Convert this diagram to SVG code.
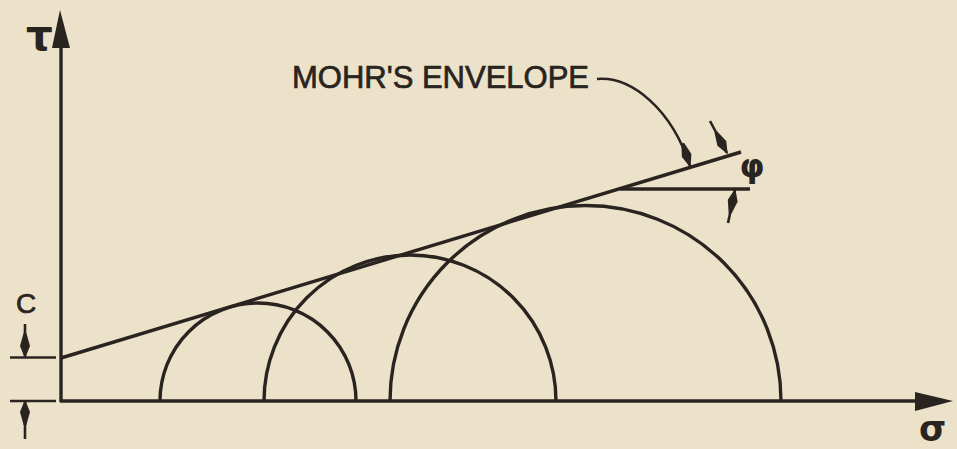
<svg xmlns="http://www.w3.org/2000/svg" width="957" height="449" viewBox="0 0 957 449">
<defs>
<style>
.ln{stroke:#2a2420;stroke-width:3.4;fill:none;stroke-linecap:butt}
.thin{stroke:#2a2420;stroke-width:2.6;fill:none}
.txt{font-family:"Liberation Sans",Arial,sans-serif;fill:#2a2420;stroke:#2a2420;stroke-width:0.7}
.gk{font-family:"DejaVu Sans",sans-serif;font-weight:bold;fill:#2a2420}
</style>
<marker id="ah" markerUnits="userSpaceOnUse" markerWidth="28" markerHeight="14" viewBox="-26 -7 28 14" refX="0" refY="0" orient="auto" overflow="visible">
<path d="M1.5,0 L-11,-5 L-24,-1.4 L-24,1.4 L-11,5 Z" fill="#2a2420"/>
</marker>
</defs>
<rect width="957" height="449" fill="#ece2c9"/>
<g id="axes">
<line class="ln" x1="61" y1="402" x2="61" y2="40"/>
<path d="M60,10 L52,48 L70,48 Z" fill="#2a2420"/>
<line class="ln" x1="60" y1="401" x2="918" y2="401"/>
<path d="M953,401 L915,392 L915,411 Z" fill="#2a2420"/>
</g>
<g id="tau-label"><text class="gk" x="26" y="50" font-size="42">τ</text></g>
<g id="sigma-label"><text class="gk" x="919" y="441" font-size="35">σ</text></g>
<g id="circle-1"><path class="ln" d="M160,401 A98,98 0 0 1 356,401"/></g>
<g id="circle-2"><path class="ln" d="M264,401 A146,146 0 0 1 556,401"/></g>
<g id="circle-3"><path class="ln" d="M390,401 A195.5,195.5 0 0 1 781,401"/></g>
<g id="envelope"><line class="ln" x1="61" y1="358" x2="741" y2="152"/></g>
<g id="envelope-label"><text class="txt" x="292" y="88" font-size="31">MOHR'S ENVELOPE</text></g>
<g id="c-dimension">
<text class="txt" x="16" y="313" font-size="28">C</text>
<line class="thin" x1="10" y1="357.5" x2="56" y2="357.5"/>
<line class="thin" x1="10" y1="401" x2="56" y2="401"/>
</g>
<g id="phi-angle">
<line class="ln" x1="620" y1="189" x2="750" y2="189"/>
<text class="gk" x="752" y="177" font-size="32" text-anchor="middle">φ</text>
</g>
<g id="connectors">
<path class="thin" d="M597,79 C632,76 672,110 690,166" marker-end="url(#ah)"/>
<line class="thin" x1="710" y1="121" x2="727" y2="153" marker-end="url(#ah)"/>
<line class="thin" x1="728" y1="223" x2="735" y2="190" marker-end="url(#ah)"/>
<line class="thin" x1="25" y1="324" x2="25" y2="357" marker-end="url(#ah)"/>
<line class="thin" x1="25" y1="439" x2="25" y2="401" marker-end="url(#ah)"/>
</g>
</svg>
